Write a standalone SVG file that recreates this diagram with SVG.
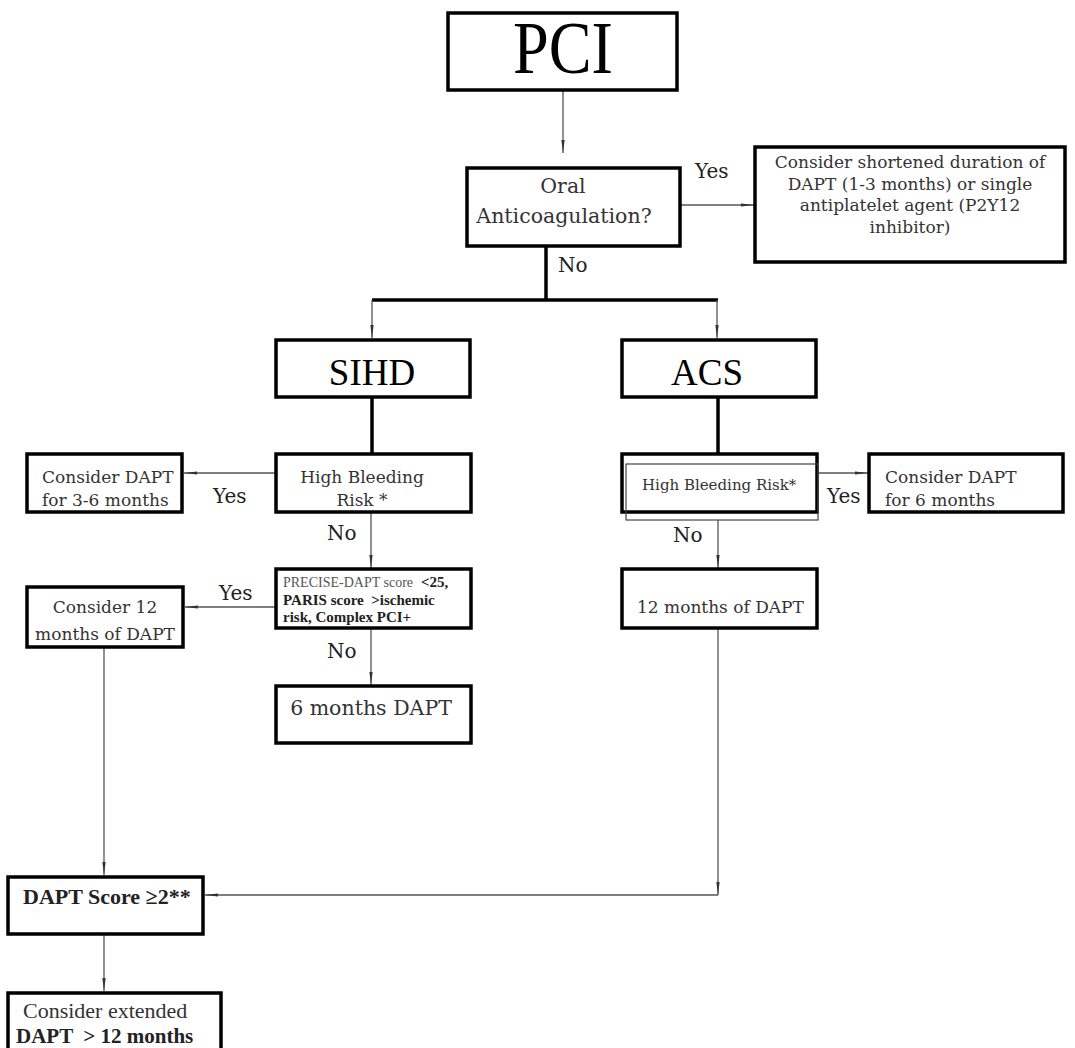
<svg xmlns="http://www.w3.org/2000/svg" width="1075" height="1048" viewBox="0 0 1075 1048">
<defs>
<style>
.box{fill:#fff;stroke:#000;stroke-width:3.5}
.thin{fill:none;stroke:#555;stroke-width:1.3}
.thick{fill:none;stroke:#000;stroke-width:3.5}
.big{font-family:"Liberation Serif","Times New Roman",serif;fill:#000}
.t{font-family:"DejaVu Serif","Liberation Serif",serif;fill:#333;font-size:17px}
.lbl{font-family:"DejaVu Serif","Liberation Serif",serif;fill:#222;font-size:20px}
.b{font-family:"Liberation Serif","Times New Roman",serif;font-weight:bold;fill:#222}
.m{text-anchor:middle}
.pre{white-space:pre}
</style>
<marker id="arr" markerUnits="userSpaceOnUse" markerWidth="14" markerHeight="6" refX="13" refY="3" orient="auto">
<path d="M0,1.4 L13,3 L0,4.6 Z" fill="#333"/>
</marker>
</defs>
<g id="connectors">
<line class="thin" x1="563" y1="90" x2="563" y2="153" marker-end="url(#arr)"/>
<line class="thin" x1="680" y1="205" x2="754" y2="205" marker-end="url(#arr)"/>
<line class="thick" x1="546" y1="246" x2="546" y2="300"/>
<line class="thick" x1="372" y1="300" x2="718" y2="300"/>
<line class="thin" x1="372" y1="300" x2="372" y2="338" marker-end="url(#arr)"/>
<line class="thin" x1="717" y1="300" x2="717" y2="338" marker-end="url(#arr)"/>
<line class="thick" x1="372" y1="397" x2="372" y2="454"/>
<line class="thick" x1="718" y1="397" x2="718" y2="454"/>
<line class="thin" x1="276" y1="473" x2="184" y2="473" marker-end="url(#arr)"/>
<line class="thin" x1="371" y1="512" x2="371" y2="568" marker-end="url(#arr)"/>
<line class="thin" x1="276" y1="607" x2="185" y2="607" marker-end="url(#arr)"/>
<line class="thin" x1="371" y1="628" x2="371" y2="685" marker-end="url(#arr)"/>
<line class="thin" x1="817" y1="473" x2="868" y2="473" marker-end="url(#arr)"/>
<line class="thin" x1="718" y1="520" x2="718" y2="568" marker-end="url(#arr)"/>
<line class="thin" x1="718" y1="628" x2="718" y2="895" marker-end="url(#arr)"/>
<line class="thin" x1="718" y1="895" x2="205" y2="895" marker-end="url(#arr)"/>
<line class="thin" x1="104" y1="647" x2="104" y2="875" marker-end="url(#arr)"/>
<line class="thin" x1="104" y1="934" x2="104" y2="991" marker-end="url(#arr)"/>
</g>
<g id="labels">
<text class="lbl" x="695" y="178">Yes</text>
<text class="lbl" x="558" y="272">No</text>
<text class="lbl" x="213" y="503">Yes</text>
<text class="lbl" x="327" y="540">No</text>
<text class="lbl" x="219" y="600">Yes</text>
<text class="lbl" x="327" y="658">No</text>
<text class="lbl" x="827" y="503">Yes</text>
<text class="lbl" x="673" y="542">No</text>
</g>
<g id="node-pci">
<rect class="box" x="448" y="13" width="229" height="77"/>
<text class="big m" x="563" y="73" font-size="74" textLength="100" lengthAdjust="spacingAndGlyphs">PCI</text>
</g>
<g id="node-oral">
<rect class="box" x="467" y="168" width="213" height="78"/>
<text class="t m" x="563" y="193" style="font-size:20.5px">Oral</text>
<text class="t m" x="564" y="223" style="font-size:20.5px">Anticoagulation?</text>
</g>
<g id="node-shortened">
<rect class="box" x="755" y="147" width="310" height="115"/>
<text class="t m" x="910" y="168">Consider shortened duration of</text>
<text class="t m" x="910" y="190">DAPT (1-3 months) or single</text>
<text class="t m" x="910" y="211">antiplatelet agent (P2Y12</text>
<text class="t m" x="910" y="233">inhibitor)</text>
</g>
<g id="node-sihd">
<rect class="box" x="276" y="340" width="194" height="57"/>
<text class="big m" x="372" y="385" font-size="37">SIHD</text>
</g>
<g id="node-acs">
<rect class="box" x="622" y="340" width="194" height="57"/>
<text class="big m" x="707" y="385" font-size="37">ACS</text>
</g>
<g id="node-dapt-3-6">
<rect class="box" x="27" y="454" width="155" height="58"/>
<text class="t" x="42" y="483">Consider DAPT</text>
<text class="t" x="42" y="506">for 3-6 months</text>
</g>
<g id="node-hbr-sihd">
<rect class="box" x="276" y="454" width="195" height="58"/>
<text class="t m" x="362" y="483">High Bleeding</text>
<text class="t m" x="362" y="506">Risk *</text>
</g>
<g id="node-precise">
<rect class="box" x="276" y="569" width="195" height="59"/>
<text x="283" y="587"><tspan font-family="Liberation Serif, Times New Roman, serif" font-size="14" fill="#555">PRECISE-DAPT score</tspan><tspan class="b" font-size="15" dx="8">&lt;25,</tspan></text>
<text class="b pre" x="283" y="605" font-size="15">PARIS score  &gt;ischemic</text>
<text class="b" x="283" y="622" font-size="15">risk, Complex PCI+</text>
</g>
<g id="node-consider-12">
<rect class="box" x="27" y="587" width="156" height="60"/>
<text class="t m" x="105" y="613">Consider 12</text>
<text class="t m" x="105" y="640">months of DAPT</text>
</g>
<g id="node-6-months">
<rect class="box" x="276" y="686" width="195" height="57"/>
<text class="t m" x="371" y="715" style="font-size:20.5px">6 months DAPT</text>
</g>
<g id="node-hbr-acs">
<rect class="box" x="622" y="454" width="195" height="58"/>
<rect x="626" y="464" width="192" height="56" fill="none" stroke="#444" stroke-width="1.2"/>
<text class="t" x="642" y="490" style="font-size:15px">High Bleeding Risk*</text>
</g>
<g id="node-dapt-6">
<rect class="box" x="869" y="454" width="194" height="58"/>
<text class="t" x="885" y="483">Consider DAPT</text>
<text class="t" x="885" y="506">for 6 months</text>
</g>
<g id="node-12-months">
<rect class="box" x="622" y="569" width="195" height="59"/>
<text class="t" x="637" y="613">12 months of DAPT</text>
</g>
<g id="node-dapt-score">
<rect class="box" x="8" y="877" width="195" height="57"/>
<text class="b" x="23" y="904" font-size="22">DAPT Score ≥2**</text>
</g>
<g id="node-extended">
<rect class="box" x="8" y="993" width="213" height="70"/>
<text x="23" y="1018" font-family="Liberation Serif, Times New Roman, serif" font-size="22" fill="#333">Consider extended</text>
<text class="b pre" x="16" y="1043" font-size="21">DAPT  &gt; 12 months</text>
</g>
</svg>
